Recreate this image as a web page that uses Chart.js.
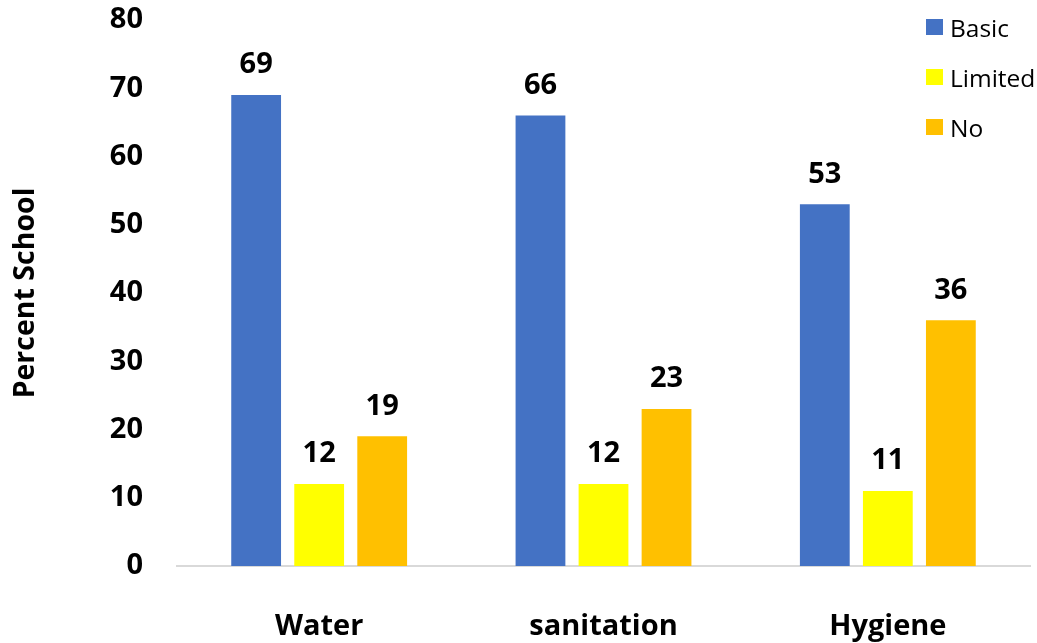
<!DOCTYPE html>
<html><head><meta charset="utf-8">
<script src="https://cdn.jsdelivr.net/npm/chart.js@4"></script>
<style>
html,body{margin:0;padding:0;background:#fff;}
#wrap{position:relative;width:1037px;height:643px;}
#legend{position:absolute;left:926px;top:10px;font-family:"Open Sans",sans-serif;font-size:24.5px;color:#000;}
#legend div{display:flex;align-items:center;height:34px;margin-bottom:16px;}
#legend span.sw{display:inline-block;width:17px;height:16px;margin-right:7px;}
</style></head>
<body><div id="wrap"><canvas id="c" width="1037" height="643"></canvas><div id="legend"></div></div>
<script>
const categories = ["Water", "sanitation", "Hygiene"];
const seriesNames = ["Basic", "Limited", "No"];
const basicValues = [69, 66, 53];
const limitedValues = [12, 12, 11];
const noValues = [19, 23, 36];
const yTicks = [0, 10, 20, 30, 40, 50, 60, 70, 80];
const colors = ["#4472C4", "#FFFF00", "#FFC000"];
const FONT = "'Open Sans', sans-serif";

const legendEl = document.getElementById('legend');
seriesNames.forEach((n, i) => {
  const d = document.createElement('div');
  d.innerHTML = '<span class="sw" style="background:' + colors[i] + '"></span>' + n;
  legendEl.appendChild(d);
});

const labelPlugin = {
  id: 'valueLabels',
  afterDatasetsDraw(chart) {
    const ctx = chart.ctx;
    ctx.save();
    ctx.font = "bold 29px " + FONT;
    ctx.fillStyle = "#000";
    ctx.textAlign = "center";
    ctx.textBaseline = "middle";
    chart.data.datasets.forEach((ds, di) => {
      chart.getDatasetMeta(di).data.forEach((bar, i) => {
        ctx.fillText(String(ds.data[i]), bar.x, bar.y - 30);
      });
    });
    ctx.restore();
  }
};

new Chart(document.getElementById('c'), {
  type: 'bar',
  data: {
    labels: categories,
    datasets: [
      { label: seriesNames[0], data: basicValues, backgroundColor: colors[0] },
      { label: seriesNames[1], data: limitedValues, backgroundColor: colors[1] },
      { label: seriesNames[2], data: noValues, backgroundColor: colors[2] }
    ]
  },
  options: {
    responsive: false,
    animation: false,
    layout: { padding: { top: 20, right: 7, left: 0, bottom: 0 } },
    datasets: { bar: { categoryPercentage: 0.665, barPercentage: 0.79 } },
    plugins: { legend: { display: false }, tooltip: { enabled: false } },
    scales: {
      x: {
        grid: { display: false, drawTicks: false },
        border: { display: true, color: "#D9D9D9", width: 2 },
        ticks: { color: "#000", font: { family: FONT, size: 29, weight: "bold" }, padding: 43, maxRotation: 0 },
        afterFit(s) { s.height = 77; s.paddingLeft = 0; s.paddingRight = 0; }
      },
      y: {
        min: 0, max: 80,
        afterBuildTicks(s) { s.ticks = yTicks.map(v => ({ value: v })); },
        grid: { display: false, drawTicks: false },
        border: { display: false },
        ticks: { color: "#000", font: { family: FONT, size: 29, weight: "bold" }, padding: 34 },
        title: { display: true, text: "Percent School", color: "#000", font: { family: FONT, size: 28.5, weight: "bold" }, padding: { top: 9, bottom: 0 } },
        afterFit(s) { s.width = 177; s.paddingTop = 0; s.paddingBottom = 0; }
      }
    }
  },
  plugins: [labelPlugin]
});
</script></body></html>
